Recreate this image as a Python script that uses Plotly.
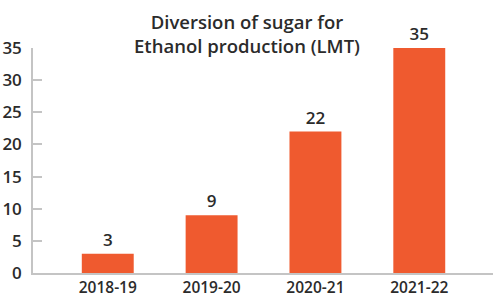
import plotly.graph_objects as go

years = ["2018-19", "2019-20", "2020-21", "2021-22"]
diversion_lmt = [3, 9, 22, 35]
y_ticks = [0, 5, 10, 15, 20, 25, 30, 35]

bar_color = "#EF5A2F"
text_color = "#2b2b2b"
axis_color = "#c4c4c4"
font_family = "Open Sans, Noto Sans, sans-serif"

fig = go.Figure(
    go.Bar(
        x=years,
        y=diversion_lmt,
        marker=dict(color=bar_color, line=dict(width=0)),
        width=0.5,
        text=[str(v) for v in diversion_lmt],
        textposition="outside",
        textfont=dict(size=17, color=text_color, family=font_family, weight=600),
        cliponaxis=False,
    )
)

fig.add_annotation(
    text="Diversion of sugar for<br>Ethanol production (LMT)",
    xref="paper", yref="paper",
    x=(247 - 33) / 460, y=1.0 + 15 / 225,
    xanchor="center", yanchor="middle",
    showarrow=False,
    font=dict(size=18.5, color=text_color, family=font_family, weight=600),
)

fig.update_layout(
    width=493,
    height=298,
    margin=dict(l=33, r=0, t=48, b=25, autoexpand=False),
    paper_bgcolor="white",
    plot_bgcolor="white",
    showlegend=False,
    xaxis=dict(
        range=[-0.72, 3.71],
        showline=True,
        linecolor=axis_color,
        linewidth=1.5,
        ticks="",
        showgrid=False,
        automargin=False,
        tickfont=dict(size=15.5, color=text_color, family=font_family, weight=600),
        fixedrange=True,
    ),
    yaxis=dict(
        range=[0, 35],
        tickvals=y_ticks,
        showline=True,
        linecolor=axis_color,
        linewidth=1.5,
        ticks="inside",
        ticklen=9,
        tickcolor=axis_color,
        tickwidth=1.5,
        showgrid=False,
        zeroline=False,
        automargin=False,
        tickfont=dict(size=17, color=text_color, family=font_family, weight=600),
        ticklabelstandoff=6,
        fixedrange=True,
    ),
)

fig.write_html(
    "out.html",
    config={"displayModeBar": False},
    post_script="document.body.style.margin='0';document.body.style.overflow='hidden';",
)
